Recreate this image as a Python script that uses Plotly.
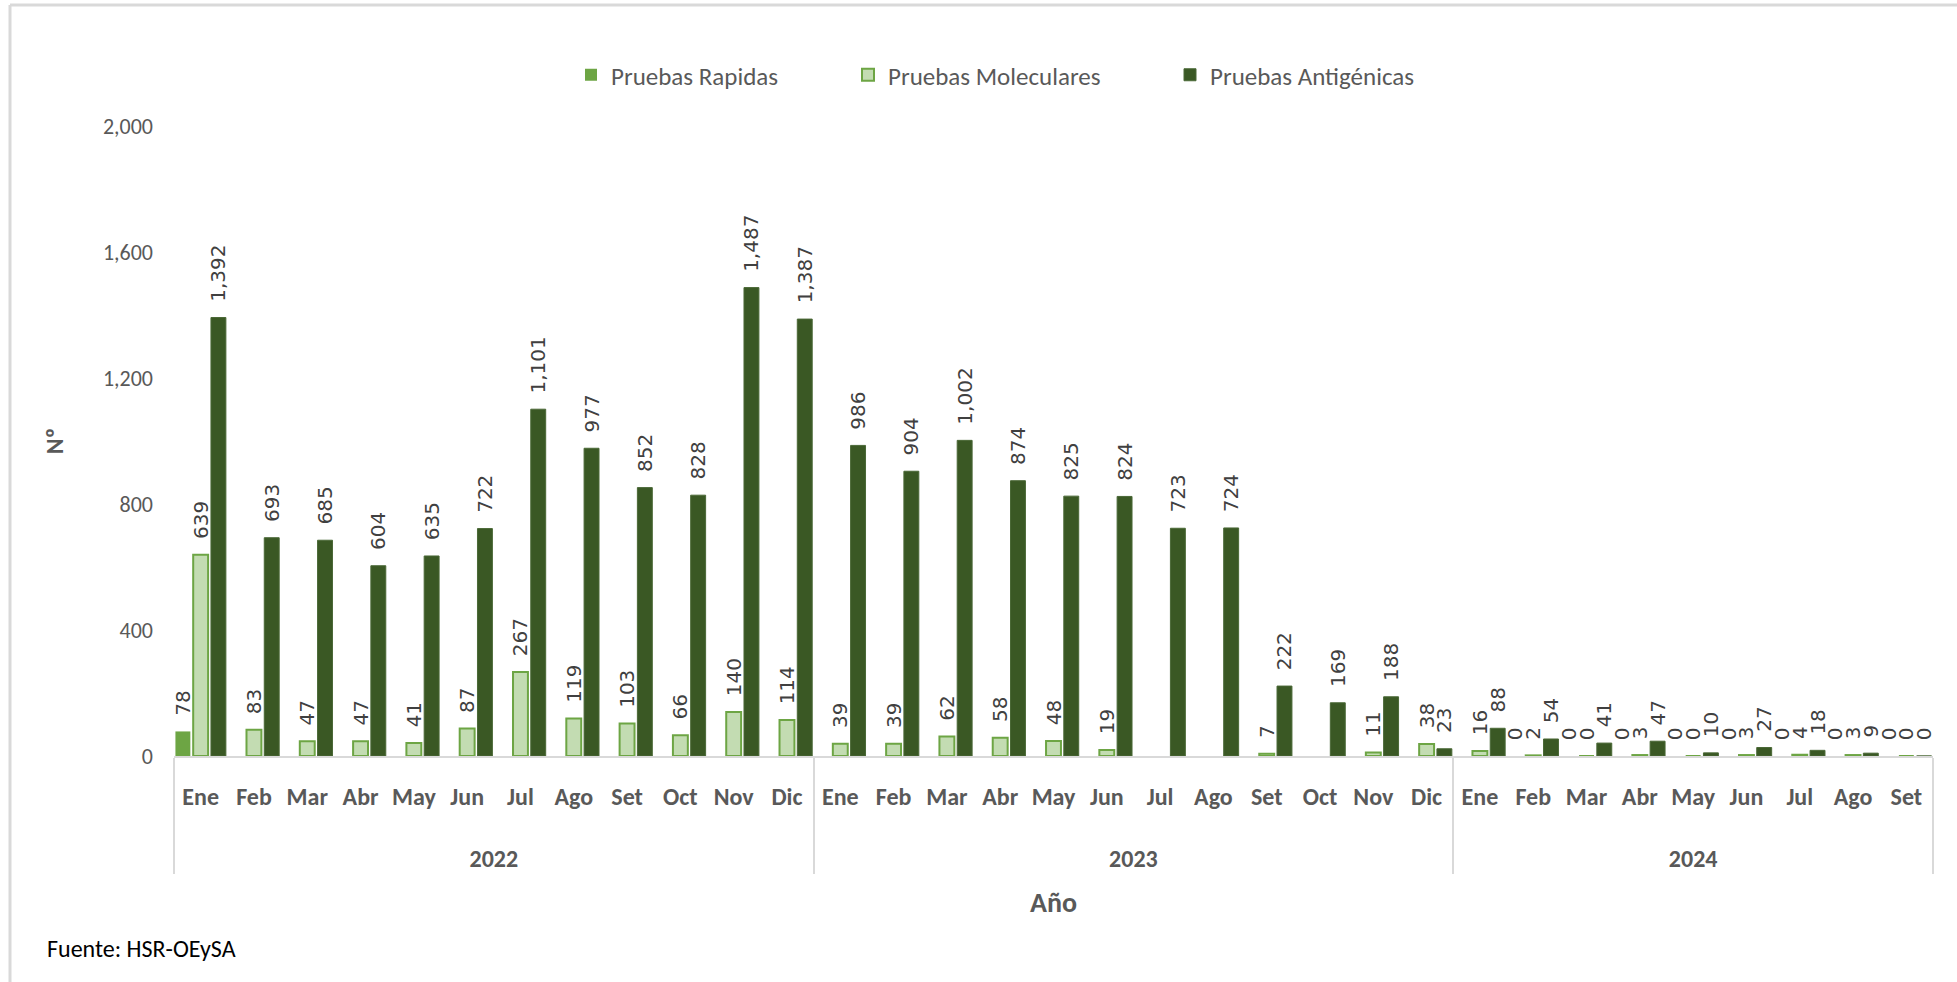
import plotly.graph_objects as go

# ---------------- data ----------------
years = ["2022"] * 12 + ["2023"] * 12 + ["2024"] * 9
months = ["Ene", "Feb", "Mar", "Abr", "May", "Jun", "Jul", "Ago", "Set", "Oct", "Nov", "Dic",
          "Ene", "Feb", "Mar", "Abr", "May", "Jun", "Jul", "Ago", "Set", "Oct", "Nov", "Dic",
          "Ene", "Feb", "Mar", "Abr", "May", "Jun", "Jul", "Ago", "Set"]

rapidas = [78, None, None, None, None, None, None, None, None, None, None, None,
           None, None, None, None, None, None, None, None, None, None, None, None,
           None, 0, 0, 0, 0, 0, 0, 0, 0]
moleculares = [639, 83, 47, 47, 41, 87, 267, 119, 103, 66, 140, 114,
               39, 39, 62, 58, 48, 19, None, None, 7, None, 11, 38,
               16, 2, 0, 3, 0, 3, 4, 3, 0]
antigenicas = [1392, 693, 685, 604, 635, 722, 1101, 977, 852, 828, 1487, 1387,
               986, 904, 1002, 874, 825, 824, 723, 724, 222, 169, 188, 23,
               88, 54, 41, 47, 10, 27, 18, 9, 0]

series_names = ["Pruebas Rapidas", "Pruebas Moleculares", "Pruebas Antigénicas"]

# ---------------- style ----------------
W, H = 1957, 982
ML, MR, MT, MB = 174, 24, 126, 226
PW, PH = W - ML - MR, H - MT - MB

NARROW = "Carlito, Liberation Sans Narrow, Liberation Sans, sans-serif"
LABEL_FONT = dict(family="DejaVu Sans, Verdana, sans-serif", size=20, color="#404040")
GREY = "#595959"
SPACER = 64  # font size of an invisible spacer line under the month labels (pushes year row down)


def px_x(px):
    return (px - ML) / PW


def px_y(py):
    return 1 - (py - MT) / PH


def labels(vals):
    return ["\u00a0\u00a0" + f"{v:,}" if v is not None else "" for v in vals]


month_ticks = [m + f"<br><span style='font-size:{SPACER}px'>\u00a0</span>" for m in months]
x = [years, month_ticks]
fig = go.Figure()

fig.add_trace(go.Bar(
    x=x, y=rapidas, name=series_names[0], legend="legend",
    marker=dict(color="#6DA544", line=dict(width=0)),
    text=labels(rapidas), textposition="outside", textangle=-90,
    textfont=LABEL_FONT, constraintext="none", cliponaxis=False,
))
fig.add_trace(go.Bar(
    x=x, y=moleculares, name=series_names[1], legend="legend2",
    marker=dict(color="#C3DCB2", line=dict(width=2, color="#6DA544")),
    text=labels(moleculares), textposition="outside", textangle=-90,
    textfont=LABEL_FONT, constraintext="none", cliponaxis=False,
))
fig.add_trace(go.Bar(
    x=x, y=antigenicas, name=series_names[2], legend="legend3",
    marker=dict(color="#3A5824", line=dict(width=1, color="#4A6836")),
    text=labels(antigenicas), textposition="outside", textangle=-90,
    textfont=LABEL_FONT, constraintext="none", cliponaxis=False,
))

leg_common = dict(orientation="h", yanchor="middle", xanchor="left", y=px_y(75),
                  font=dict(family=NARROW, size=25, color=GREY),
                  bgcolor="rgba(0,0,0,0)", borderwidth=0, itemwidth=30)

fig.update_layout(
    width=W, height=H,
    margin=dict(l=ML, r=MR, t=MT, b=MB, pad=0),
    paper_bgcolor="white", plot_bgcolor="white",
    barmode="group", bargap=0.0, bargroupgap=0.16,
    showlegend=True,
    legend=dict(x=px_x(571), **leg_common),
    legend2=dict(x=px_x(848), **leg_common),
    legend3=dict(x=px_x(1170), **leg_common),
    font=dict(family=NARROW, color=GREY),
    xaxis=dict(
        type="multicategory",
        showline=True, linecolor="#D9D9D9", linewidth=2,
        showgrid=False, zeroline=False,
        ticks="", tickangle=0, ticklabelstandoff=18,
        showdividers=True, dividercolor="#D9D9D9", dividerwidth=2,
        tickfont=dict(family=NARROW, size=24, color=GREY, weight="bold"),
        title=dict(text="Año", font=dict(family=NARROW, size=28, color=GREY, weight="bold"),
                   standoff=21),
    ),
    yaxis=dict(
        range=[0, 2000], dtick=400, tickformat=",",
        showline=False, showgrid=False, zeroline=False, ticks="",
        tickfont=dict(family=NARROW, size=22, color=GREY),
        ticklabelstandoff=20,
        title=dict(text="Nº", font=dict(family=NARROW, size=24, color=GREY, weight="bold"),
                   standoff=32),
    ),
    annotations=[dict(
        text="Fuente: HSR-OEySA", xref="paper", yref="paper",
        x=px_x(45), y=px_y(948), xanchor="left", yanchor="middle", showarrow=False,
        font=dict(family=NARROW, size=24, color="#000000"),
    )],
    shapes=[
        dict(type="line", xref="paper", yref="paper", x0=px_x(10), x1=px_x(W + 5),
             y0=px_y(5), y1=px_y(5), line=dict(color="#D9D9D9", width=3)),
        dict(type="line", xref="paper", yref="paper", x0=px_x(10), x1=px_x(10),
             y0=px_y(5), y1=px_y(H + 5), line=dict(color="#D9D9D9", width=3)),
    ],
)

fig.write_html("out.html", config={"displayModeBar": False},
               post_script="document.body.style.margin='0';document.body.style.overflow='hidden';")
